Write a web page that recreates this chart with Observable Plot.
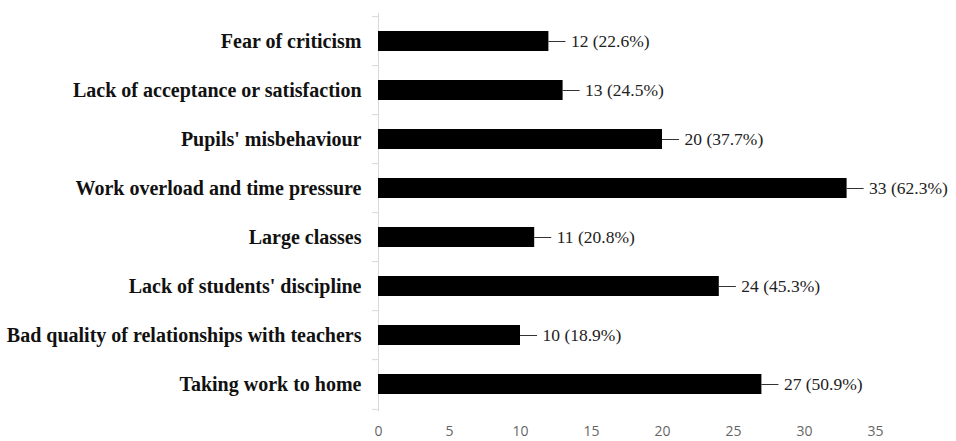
<!DOCTYPE html>
<html>
<head>
<meta charset="utf-8">
<script src="https://cdn.jsdelivr.net/npm/d3@7"></script>
<script src="https://cdn.jsdelivr.net/npm/@observablehq/plot@0.6"></script>
<style>
  html, body { margin: 0; padding: 0; background: #fff; }
  #chart svg { display: block; }
</style>
</head>
<body>
<div id="chart"></div>
<script>
const categories = [
  "Fear of criticism",
  "Lack of acceptance or satisfaction",
  "Pupils' misbehaviour",
  "Work overload and time pressure",
  "Large classes",
  "Lack of students' discipline",
  "Bad quality of relationships with teachers",
  "Taking work to home"
];
const counts = [12, 13, 20, 33, 11, 24, 10, 27];
const percents = ["22.6", "24.5", "37.7", "62.3", "20.8", "45.3", "18.9", "50.9"];
const xTicks = [0, 5, 10, 15, 20, 25, 30, 35];

const data = categories.map((c, i) => ({
  category: c,
  count: counts[i],
  label: `${counts[i]} (${percents[i]}%)`
}));

const step = (441 - 13 - 30) / categories.length;

const chart = Plot.plot({
  width: 956,
  height: 441,
  marginLeft: 378,
  marginRight: 81,
  marginTop: 13,
  marginBottom: 30,
  x: { domain: [0, 35], axis: null, label: null },
  y: { domain: categories, axis: null, label: null, paddingInner: 0.6, paddingOuter: 0.3 },
  marks: [
    Plot.axisX({
      ticks: xTicks, tickSize: 0, tickPadding: 15, label: null,
      fontFamily: "'Open Sans', sans-serif", fontSize: 14, fill: "#666"
    }),
    Plot.ruleX([0], { stroke: "#d9d9d9" }),
    Plot.axisY({ text: null, label: null, tickSize: 6, stroke: "#d9d9d9", dy: -step / 2 }),
    Plot.axisY({ ticks: [categories[categories.length - 1]], text: null, label: null, tickSize: 6, stroke: "#d9d9d9", dy: step / 2 }),
    Plot.axisY({
      tickSize: 0, tickPadding: 17, label: null,
      fontFamily: "'Liberation Serif', 'Times New Roman', serif",
      fontSize: 20, fontWeight: "bold", fill: "#111"
    }),
    Plot.barX(data, { x: "count", y: "category", fill: "black" }),
    Plot.ruleY(data, { y: "category", x1: "count", x2: d => d.count + 1.2, stroke: "#333", strokeWidth: 1 }),
    Plot.text(data, {
      x: "count", y: "category", text: "label", textAnchor: "start", dx: 22,
      fontFamily: "'Liberation Serif', 'Times New Roman', serif", fontSize: 17.5, fill: "#222"
    })
  ]
});
document.getElementById("chart").appendChild(chart);
</script>
</body>
</html>
